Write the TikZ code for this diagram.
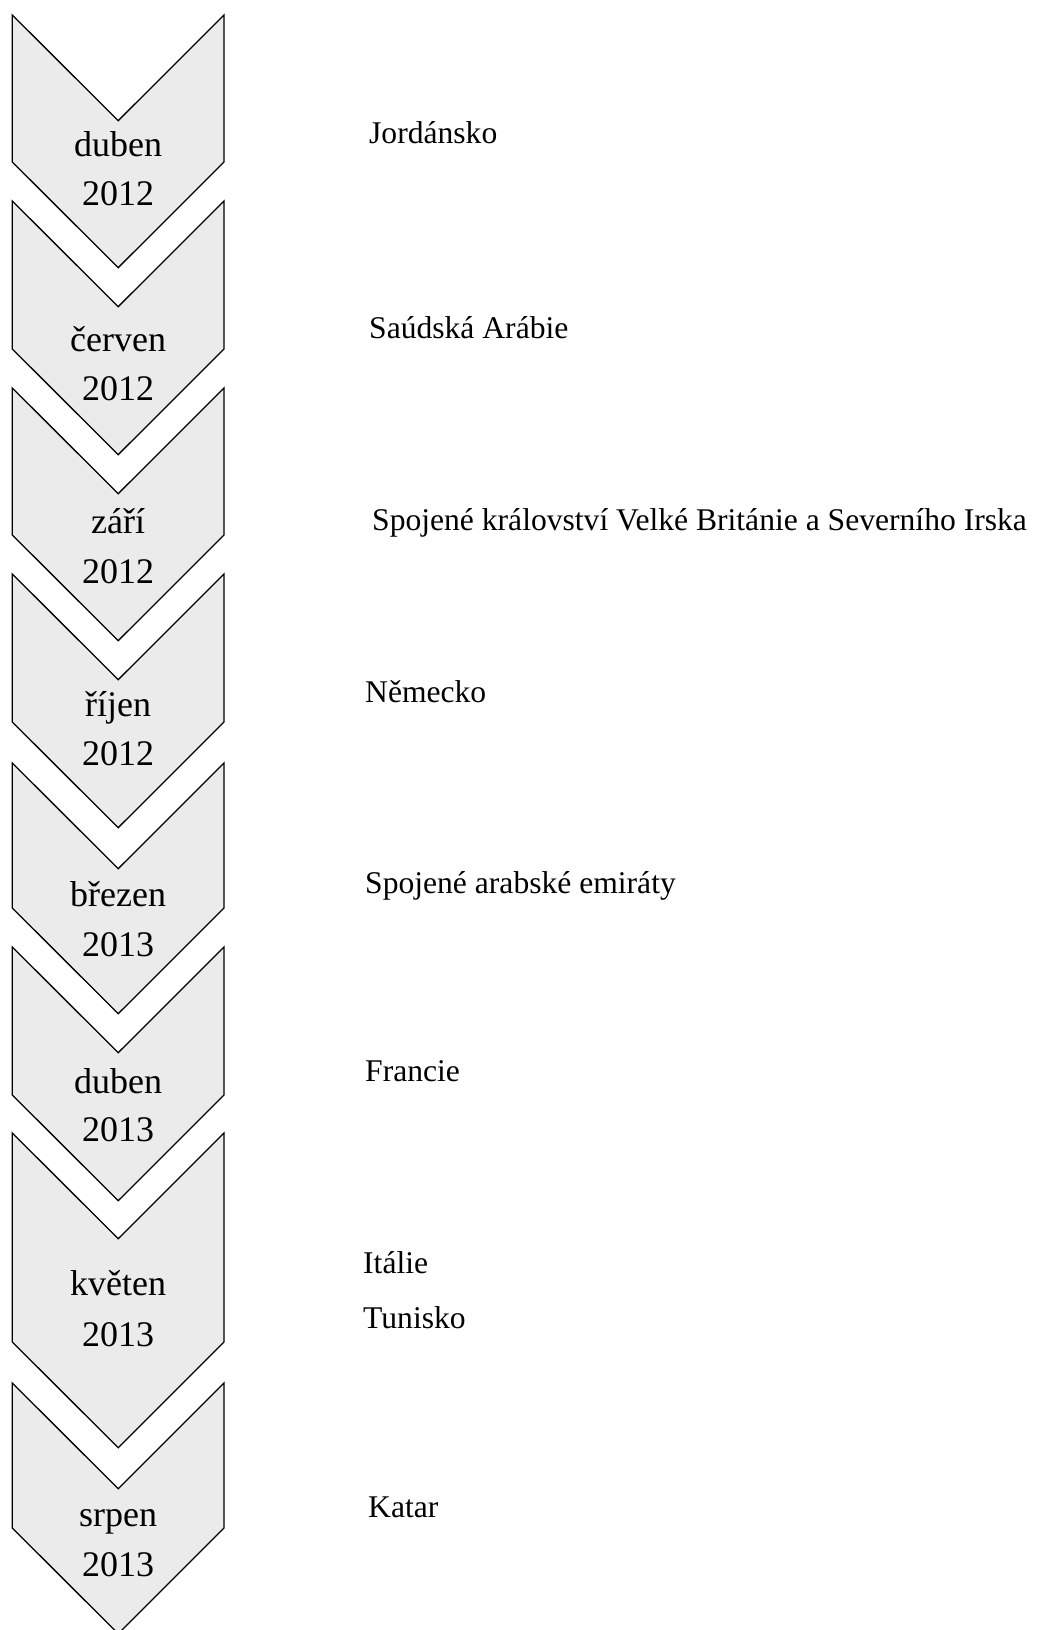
\documentclass[tikz,border=0pt]{standalone}
\usepackage{fontspec}
\setmainfont{Liberation Serif}
\definecolor{chevfill}{RGB}{235,235,235}
\begin{document}
\begin{tikzpicture}[x=1pt,y=-1pt,
  chev/.style={draw=black,line width=1.3pt,fill=chevfill,line join=miter},
  mtxt/.style={font=\fontsize{36}{40}\selectfont,anchor=base,inner sep=0pt},
  ctry/.style={font=\fontsize{31.6}{36}\selectfont,anchor=base west,inner sep=0pt}]
\useasboundingbox (0,0) rectangle (1043,1630);
\clip (0,0) rectangle (1043,1630);
% chevrons: top corner y / lower side end y
\foreach \t/\b in {15/162, 201/349, 388/535, 574/722, 763/908, 947/1095, 1133/1342, 1383/1528} {
  \draw[chev] (12.3,\t) -- (118.2,{\t+105.7}) -- (224,\t) -- (224,\b) -- (118.2,{\b+105.7}) -- (12.3,\b) -- cycle;
}
% month / year labels
\node[mtxt] (m1) at (118.2,156.7) {duben};
\node[mtxt] (y1) at (118.2,205) {2012};
\node[mtxt] (m2) at (118.2,351.7) {červen};
\node[mtxt] (y2) at (118.2,400) {2012};
\node[mtxt] (m3) at (118.2,533.3) {září};
\node[mtxt] (y3) at (118.2,583.3) {2012};
\node[mtxt] (m4) at (118.2,716.7) {říjen};
\node[mtxt] (y4) at (118.2,765) {2012};
\node[mtxt] (m5) at (118.2,906.7) {březen};
\node[mtxt] (y5) at (118.2,956.7) {2013};
\node[mtxt] (m6) at (118.2,1093.3) {duben};
\node[mtxt] (y6) at (118.2,1141.7) {2013};
\node[mtxt] (m7) at (118.2,1295) {květen};
\node[mtxt] (y7) at (118.2,1346.7) {2013};
\node[mtxt] (m8) at (118.2,1526.7) {srpen};
\node[mtxt] (y8) at (118.2,1576.7) {2013};
% countries
\node[ctry] (c1) at (369,143) {Jordánsko};
\node[ctry] (c2) at (369,338) {Saúdská Arábie};
\node[ctry] (c3) at (372,530) {Spojené království Velké Británie a Severního Irska};
\node[ctry] (c4) at (365,702) {Německo};
\node[ctry] (c5) at (365,893) {Spojené arabské emiráty};
\node[ctry] (c6) at (365,1081) {Francie};
\node[ctry] (c7a) at (363,1273) {Itálie};
\node[ctry] (c7b) at (363,1328) {Tunisko};
\node[ctry] (c8) at (368,1517) {Katar};
\end{tikzpicture}
\end{document}
